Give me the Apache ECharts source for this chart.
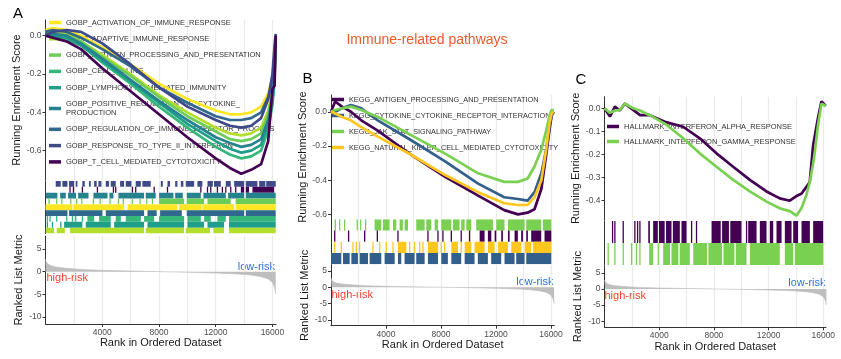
<!DOCTYPE html>
<html><head><meta charset="utf-8">
<script src="https://cdn.jsdelivr.net/npm/echarts@6/dist/echarts.min.js"></script>
<style>html,body{margin:0;padding:0;background:#fff}#c{width:841px;height:359px}</style>
</head><body><div id="c"></div><script>
// ---------------- DATA ----------------
const gridRanks = [2000,4000,6000,8000,10000,12000,14000,16000];
const labelRanks = [4000,8000,12000,16000];
const metricTicks = [-10,-5,0,5];

// ranked list metric (shared)
const metricRank  = [0,50,150,400,800,1500,2500,4000,6000,8000,10000,12000,13500,14500,15200,15700,16000,16150,16230];
const metricValue = [2.8,2.2,1.7,1.3,1.0,0.75,0.5,0.3,0.15,0.02,-0.12,-0.3,-0.5,-0.75,-1.1,-1.6,-2.4,-3.5,-5.0];

// Panel A: running enrichment scores
const esRanksA = [0,500,1500,2500,4000,6000,8000,10000,12000,13000,13800,14500,15200,15700,16000,16150,16230];
const esA_Activation  = [0.03,0.04,0.03,0.0,-0.06,-0.15,-0.25,-0.33,-0.39,-0.41,-0.41,-0.40,-0.37,-0.30,-0.22,-0.10,0.0];
const esA_Adaptive    = [0.02,0.02,0.01,-0.03,-0.10,-0.20,-0.31,-0.40,-0.48,-0.51,-0.52,-0.51,-0.48,-0.39,-0.28,-0.16,0.0];
const esA_Antigen     = [0.01,0.01,0.0,-0.03,-0.11,-0.21,-0.32,-0.42,-0.50,-0.54,-0.55,-0.54,-0.51,-0.41,-0.30,-0.18,0.0];
const esA_CellKilling = [0.0,0.0,-0.02,-0.05,-0.14,-0.25,-0.37,-0.48,-0.58,-0.62,-0.64,-0.63,-0.60,-0.49,-0.36,-0.23,0.0];
const esA_Lymphocyte  = [0.01,0.0,-0.01,-0.05,-0.13,-0.24,-0.35,-0.46,-0.55,-0.59,-0.61,-0.60,-0.57,-0.46,-0.34,-0.21,0.0];
const esA_Positive    = [0.01,0.01,0.0,-0.04,-0.12,-0.23,-0.34,-0.44,-0.53,-0.56,-0.58,-0.57,-0.54,-0.44,-0.32,-0.19,0.0];
const esA_Regulation  = [0.02,0.03,0.02,-0.01,-0.07,-0.16,-0.27,-0.35,-0.42,-0.44,-0.44,-0.43,-0.40,-0.32,-0.24,-0.12,0.0];
const esA_Response    = [0.0,0.02,0.03,0.02,-0.04,-0.15,-0.27,-0.37,-0.44,-0.47,-0.48,-0.47,-0.43,-0.33,-0.20,-0.05,0.01];
const esA_TCell       = [0.0,-0.01,-0.03,-0.07,-0.17,-0.29,-0.41,-0.53,-0.64,-0.69,-0.72,-0.70,-0.67,-0.55,-0.28,-0.26,0.0];

// Panel B
const esRanksB = [0,300,800,1450,2200,3400,5800,8300,10700,12600,13600,14300,14800,15300,15650,15900,16050,16200];
const esB_Antigen  = [0.0,0.06,0.03,0.0,-0.05,-0.11,-0.25,-0.38,-0.49,-0.575,-0.60,-0.59,-0.57,-0.45,-0.25,-0.10,-0.02,0.0];
const esB_Cytokine = [-0.01,0.0,0.02,0.04,0.02,-0.05,-0.165,-0.29,-0.42,-0.50,-0.51,-0.52,-0.47,-0.36,-0.22,-0.08,-0.02,0.0];
const esB_Jak      = [0.0,0.01,0.02,0.03,0.01,-0.03,-0.135,-0.245,-0.36,-0.41,-0.41,-0.39,-0.32,-0.22,-0.11,-0.02,0.01,0.01];
const esB_Natural  = [0.0,-0.01,-0.03,-0.05,-0.09,-0.145,-0.25,-0.37,-0.47,-0.535,-0.545,-0.545,-0.50,-0.40,-0.22,-0.06,-0.01,0.0];

// Panel C
const esRanksC = [0,400,760,1120,1490,2100,2600,3300,4500,5750,6970,8190,9410,10630,11850,12820,13550,14040,14400,14770,15010,15260,15380,15620,15870,16190];
const esC_Alpha = [0,-0.036,0.007,-0.01,0.02,-0.007,-0.03,-0.03,-0.06,-0.08,-0.13,-0.195,-0.253,-0.31,-0.36,-0.39,-0.40,-0.38,-0.37,-0.34,-0.32,-0.16,-0.12,-0.04,0.03,0.01];
const esC_Gamma = [0,-0.02,-0.01,-0.007,0.02,0.0,-0.01,-0.03,-0.07,-0.13,-0.195,-0.253,-0.31,-0.36,-0.404,-0.433,-0.445,-0.465,-0.433,-0.375,-0.32,-0.24,-0.19,-0.07,0.02,0.01];

// Rug (hit) intervals [startRank, endRank]
const rugA_Response = [[720,1075],[1190,1545],[1660,2015],[2130,2250],[2600,2770],[3070,3190],[3425,3610],[3730,3940],[4250,4480],[4600,4950],[5260,5540],[5660,6060],[6360,6720],[6830,7420],[8130,8270],[8600,8780],[9140,9300],[9540,9720],[9890,10480],[10710,11060],[11420,11800],[11880,12360],[12710,13060],[13300,14000],[14120,14940],[15060,15500],[15560,16230]];
const rugA_TCell = [[1730,1730],[1970,1970],[2600,2600],[3660,3660],[4790,4790],[4950,4950],[6130,6130],[6360,6360],[7660,7660],[8600,8600],[10950,10950],[11420,11420],[11650,11650],[12120,12120],[12470,12470],[12710,12710],[13060,13060],[13410,13410],[13770,14000],[14120,14350],[14590,16120]];
const rugA_Positive = [[20,840],[1030,1430],[1590,2150],[2300,3030],[3380,4370],[4510,4790],[5140,6950],[7070,7770],[8010,9020],[9140,9680],[9960,10950],[11130,12710],[12870,14000],[14120,16230]];
const rugA_Antigen = [[250,250],[790,790],[1150,1150],[1780,1780],[2200,2200],[2560,2560],[3380,3380],[3850,3850],[4550,4550],[5140,5140],[5490,5490],[6130,6130],[6670,6670],[7140,7140],[7540,7540],[8010,9770],[9960,11180],[11420,13060],[13410,16230]];
const rugA_Activation = [[0,1900],[1960,5540],[5780,9300],[9420,11000],[11060,13300],[13410,16230]];
const rugA_Regulation = [[20,1550],[1660,4010],[4250,6950],[7190,7840],[8080,9610],[9960,14000],[14120,16230]];
const rugA_CellKilling = [[135,135],[320,320],[790,790],[1500,1500],[1900,1900],[2130,2130],[2600,2600],[2950,3430],[3780,4600],[4950,5310],[5660,6720],[6950,7660],[8010,9770],[10010,10950],[11180,11650],[12120,12710],[12940,16230]];
const rugA_Lymphocyte = [[135,135],[490,490],[1080,1080],[1310,2600],[2840,4600],[4840,6950],[7190,9770],[10010,11180],[11420,12590],[12940,16230]];
const rugA_Adaptive = [[20,600],[790,1360],[1730,6950],[7070,9770],[9890,11600],[11840,12590],[12940,16230]];

const rugB_Jak = [[315,315],[630,630],[990,990],[1910,1910],[2160,2160],[2520,2520],[3170,3660],[3780,4260],[4510,4750],[4990,5230],[5350,5600],[6200,6810],[6930,7290],[7540,7780],[8020,8750],[8870,9350],[9470,9720],[9840,10200],[10560,11780],[12020,12620],[12870,14080],[14200,15290],[15410,16020]];
const rugB_Antigen = [[270,270],[1280,1280],[2450,2450],[3370,3370],[4870,4870],[7050,7050],[7780,7780],[8140,8140],[8750,8750],[9470,9470],[10080,10080],[10810,11170],[11410,11660],[11900,12020],[12380,12500],[12870,12990],[13350,13590],[13830,13960],[14200,14320],[14560,15290],[15530,16020]];
const rugB_Natural = [[270,270],[750,750],[1600,1600],[1840,1840],[2080,2080],[3050,3050],[3540,3540],[4020,4020],[4510,4510],[4870,5480],[5720,5720],[6080,6080],[6450,6450],[6690,6690],[7050,7780],[8020,8020],[8260,8260],[8750,9230],[9470,9470],[9720,10200],[10440,11170],[11410,11900],[12140,12870],[13110,13840],[14080,14560],[14680,16020]];
const rugB_Cytokine = [[0,750],[870,1360],[1480,1960],[2080,2690],[2810,3660],[3900,4630],[4870,5110],[5350,6080],[6200,6810],[7050,7780],[8020,8500],[8750,9470],[9720,10440],[10680,11410],[11650,12380],[12620,13350],[13470,14080],[14200,16020]];

const rugC_Alpha = [[590,590],[760,760],[1370,1370],[2220,2220],[2420,2420],[2590,2590],[3200,3320],[3560,3900],[3980,4400],[4500,4900],[5000,5510],[5630,6000],[6370,6370],[6730,6730],[7830,8500],[8600,9100],[9200,10020],[10390,10390],[10510,11120],[11360,11850],[12090,12340],[12580,12950],[13190,13680],[13800,14160],[14410,15020],[15260,15990]];
const rugC_Gamma = [[270,270],[760,760],[1370,1370],[1980,1980],[2340,2340],[2590,2590],[3270,3560],[3930,3930],[4290,4800],[4900,5400],[5500,6240],[6490,7500],[7600,8600],[8700,9500],[9600,10390],[10630,12820],[13190,13800],[13920,16000]];

// gene set names
const namesA = ['GOBP_ACTIVATION_OF_IMMUNE_RESPONSE','GOBP_ADAPTIVE_IMMUNE_RESPONSE','GOBP_ANTIGEN_PROCESSING_AND_PRESENTATION','GOBP_CELL_KILLING','GOBP_LYMPHOCYTE_MEDIATED_IMMUNITY','GOBP_POSITIVE_REGULATION_OF_CYTOKINE_\nPRODUCTION','GOBP_REGULATION_OF_IMMUNE_EFFECTOR_PROCESS','GOBP_RESPONSE_TO_TYPE_II_INTERFERON','GOBP_T_CELL_MEDIATED_CYTOTOXICITY'];
const namesB = ['KEGG_ANTIGEN_PROCESSING_AND_PRESENTATION','KEGG_CYTOKINE_CYTOKINE_RECEPTOR_INTERACTION','KEGG_JAK_STAT_SIGNALING_PATHWAY','KEGG_NATURAL_KILLER_CELL_MEDIATED_CYTOTOXICITY'];
const namesC = ['HALLMARK_INTERFERON_ALPHA_RESPONSE','HALLMARK_INTERFERON_GAMMA_RESPONSE'];

// ---------------- CHART ----------------
const FONT = '"Liberation Sans", Arial, Helvetica, sans-serif';
const colA = ['#FDE725','#B4DE2C','#6DCD59','#35B779','#1F9E89','#26828E','#31688E','#3E4A89','#440154'];
const colB = ['#440154','#325F8C','#7AD151','#FFC61E'];
const colC = ['#440154','#7AD151'];

const panels = [
  {left:45.5, width:230.5, xMax:16250, esMin:-0.753, esMax:0.082, esTicks:[-0.6,-0.4,-0.2,0],
   rug:[181,233.5], met:[236,324], metMin:-11.57, metMax:7.9,
   names:namesA, colors:colA, ranks:esRanksA, es:[20,180],
   curves:[esA_Activation,esA_Adaptive,esA_Antigen,esA_CellKilling,esA_Lymphocyte,esA_Positive,esA_Regulation,esA_Response,esA_TCell],
   rugRows:[[rugA_Response,7],[rugA_TCell,8],[rugA_Positive,5],[rugA_Antigen,2],[rugA_Activation,0],[rugA_Regulation,6],[rugA_CellKilling,3],[rugA_Lymphocyte,4],[rugA_Adaptive,1]],
   legend:{left:49, top:18, gap:7.3, font:7.5}},
  {left:331, width:223.3, xMax:16240, esMin:-0.627, esMax:0.098, esTicks:[-0.6,-0.4,-0.2,0],
   rug:[219.3,264.3], met:[265,325.7], metMin:-11.74, metMax:6.82,
   names:namesB, colors:colB, ranks:esRanksB, es:[95,219],
   curves:[esB_Antigen,esB_Cytokine,esB_Jak,esB_Natural],
   rugRows:[[rugB_Jak,2],[rugB_Antigen,0],[rugB_Natural,3],[rugB_Cytokine,1]],
   legend:{left:332, top:95, gap:7, font:7.3}},
  {left:604.5, width:221.5, xMax:16200, esMin:-0.4835, esMax:0.050, esTicks:[-0.4,-0.3,-0.2,-0.1,0],
   rug:[221,265], met:[266,327.3], metMin:-11.9, metMax:7.14,
   names:namesC, colors:colC, ranks:esRanksC, es:[96.7,220],
   curves:[esC_Alpha,esC_Gamma],
   rugRows:[[rugC_Alpha,0],[rugC_Gamma,1]],
   legend:{left:607, top:122, gap:6, font:7.5}}
];

const grid=[], xAxis=[], yAxis=[], series=[], legend=[];
const axisCol = '#333333', tickLabCol = '#4D4D4D', nameCol = '#1A1A1A';

function gridXAxis(gi, max){
  xAxis.push({type:'value', gridIndex:gi, position:'top', min:0, max:max, axisLine:{show:false},
    axisTick:{show:false, customValues:gridRanks}, axisLabel:{show:false},
    splitLine:{show:true, lineStyle:{color:'#EBEBEB', width:1.3}}});
  return xAxis.length-1;
}

panels.forEach(p => {
  const g0 = grid.length;
  grid.push({left:p.left, width:p.width, top:p.es[0], height:p.es[1]-p.es[0]});
  grid.push({left:p.left, width:p.width, top:p.rug[0], height:p.rug[1]-p.rug[0]});
  grid.push({left:p.left, width:p.width, top:p.met[0], height:p.met[1]-p.met[0]});
  const x0 = gridXAxis(g0, p.xMax), x1 = gridXAxis(g0+1, p.xMax), x2 = gridXAxis(g0+2, p.xMax);
  xAxis.push({type:'value', gridIndex:g0+2, position:'bottom', min:0, max:p.xMax,
    axisLine:{show:true, onZero:false, lineStyle:{color:axisCol, width:1}},
    axisTick:{show:true, customValues:labelRanks, length:3, lineStyle:{color:axisCol}},
    axisLabel:{customValues:labelRanks, formatter:v => String(Math.round(v)), fontSize:8.5, color:tickLabCol, margin:4, fontFamily:FONT},
    splitLine:{show:false},
    name:'Rank in Ordered Dataset', nameLocation:'middle', nameGap:13,
    nameTextStyle:{fontSize:11, color:nameCol, fontFamily:FONT}});
  const xLab = xAxis.length-1;

  yAxis.push({type:'value', gridIndex:g0, min:p.esMin, max:p.esMax,
    axisLine:{show:true, lineStyle:{color:axisCol}},
    axisTick:{show:true, customValues:p.esTicks, length:3, lineStyle:{color:axisCol}},
    axisLabel:{customValues:p.esTicks, formatter:v => (Math.abs(v)<1e-9 ? '0.0' : v.toFixed(1)), fontSize:8.5, color:tickLabCol, margin:4, fontFamily:FONT},
    splitLine:{show:false},
    name:'Running Enrichment Score', nameLocation:'middle', nameGap:21,
    nameTextStyle:{fontSize:11, color:nameCol, fontFamily:FONT}});
  const y0 = yAxis.length-1;
  yAxis.push({type:'value', gridIndex:g0+1, min:0, max:p.rugRows.length, inverse:true,
    axisLine:{show:true, lineStyle:{color:axisCol}}, axisTick:{show:false}, axisLabel:{show:false}, splitLine:{show:false}});
  const y1 = yAxis.length-1;
  yAxis.push({type:'value', gridIndex:g0+2, min:p.metMin, max:p.metMax,
    axisLine:{show:true, lineStyle:{color:axisCol}},
    axisTick:{show:true, customValues:metricTicks, length:3, lineStyle:{color:axisCol}},
    axisLabel:{customValues:metricTicks, formatter:v => String(v), fontSize:8.5, color:tickLabCol, margin:4, fontFamily:FONT},
    splitLine:{show:false},
    name:'Ranked List Metric', nameLocation:'middle', nameGap:21,
    nameTextStyle:{fontSize:11, color:nameCol, fontFamily:FONT}});
  const y2 = yAxis.length-1;

  p.curves.forEach((vals, i) => {
    series.push({type:'line', name:p.names[i], xAxisIndex:x0, yAxisIndex:y0,
      data: p.ranks.map((r,k) => [r, vals[k]]), showSymbol:false, symbol:'none',
      lineStyle:{width:2.7, color:p.colors[i]}, itemStyle:{color:p.colors[i]},
      z:3, silent:true, animation:false, clip:true});
  });
  p.rugRows.forEach((rr, row) => {
    const col = p.colors[rr[1]];
    series.push({type:'custom', name:'rug'+g0+'_'+row, xAxisIndex:x1, yAxisIndex:y1,
      data: rr[0].map(iv => [iv[0], iv[1], row]), silent:true, animation:false, clip:true,
      renderItem:(params, api) => {
        const s=api.value(0), e=api.value(1), r=api.value(2);
        const a=api.coord([s, r]), b=api.coord([e, r+1]);
        let x=a[0], w=b[0]-a[0];
        if (w < 1.3) { x -= (1.3-w)/2; w = 1.3; }
        return {type:'rect', shape:{x:x, y:a[1], width:w, height:b[1]-a[1]}, style:{fill:col}};
      }});
  });
  series.push({type:'line', name:'metric'+g0, xAxisIndex:xLab, yAxisIndex:y2,
    data: metricRank.map((r,k)=>[r, metricValue[k]]), showSymbol:false, symbol:'none',
    lineStyle:{width:0.6, color:'#BEBEBE'}, areaStyle:{color:'#BEBEBE', opacity:1, origin:0},
    silent:true, animation:false, z:2});

  legend.push({show:true, orient:'vertical', left:p.legend.left, top:p.legend.top, padding:0,
    itemGap:p.legend.gap, itemWidth:12, itemHeight:3.5, icon:'rect', selectedMode:false, z:1,
    data:p.names.slice(), textStyle:{fontSize:p.legend.font, lineHeight:9, color:'#333', fontFamily:FONT}});
});

const T = (text, x, y, opt) => Object.assign({type:'text', x:x, y:y, silent:true,
  style:Object.assign({text:text, fontFamily:FONT, fill:'#000', fontSize:11, verticalAlign:'middle', align:'left'}, opt||{})});

const graphic = [
  T('Immune-related pathways', 427, 40, {fontSize:14, fill:'#F05A28', align:'center'}),
  T('A', 13, 13.5, {fontSize:15}),
  T('B', 302.5, 79, {fontSize:15}),
  T('C', 575.5, 79.5, {fontSize:15}),
  T('high-risk', 46.5, 277.5, {fill:'#F5412D'}),
  T('low-risk', 275, 267, {fill:'#2E6FD9', align:'right'}),
  T('high-risk', 331.5, 294.5, {fill:'#F5412D'}),
  T('low-risk', 553.5, 282, {fill:'#2E6FD9', align:'right'}),
  T('high-risk', 604.5, 296, {fill:'#F5412D'}),
  T('low-risk', 825.5, 283, {fill:'#2E6FD9', align:'right'})
];

const chart = echarts.init(document.getElementById('c'), null, {renderer:'canvas', width:841, height:359});
chart.setOption({animation:false, backgroundColor:'#fff', textStyle:{fontFamily:FONT},
  grid:grid, xAxis:xAxis, yAxis:yAxis, series:series, legend:legend, graphic:graphic});
</script></body></html>
